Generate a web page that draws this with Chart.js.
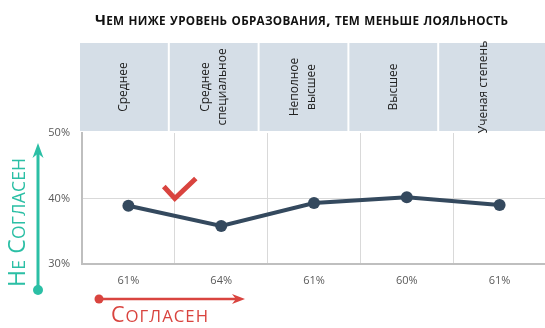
<!DOCTYPE html>
<html lang="ru">
<head>
    <meta charset="UTF-8">
    <meta name="viewport" content="width=device-width, initial-scale=1.0">
    <title>Уровень образования и лояльность</title>
    <style>
        html, body {
            margin: 0;
            padding: 0;
            background: #fff;
            overflow: hidden;
        }
        #chart-container {
            width: 552px;
            height: 328px;
        }
    </style>
</head>
<body>
    <div id="chart-container">
        <canvas id="loyaltyChart"></canvas>
    </div>
    <script src="https://cdn.jsdelivr.net/npm/chart.js"></script>
    <script>
        const titleText = 'Чем ниже уровень образования, тем меньше лояльность';
        const educationLevels = [['Среднее'], ['Среднее', 'специальное'], ['Неполное', 'высшее'], ['Высшее'], ['Ученая степень']];
        const agreeShares = ['61%', '64%', '61%', '60%', '61%'];
        const disagreeShares = [38.9, 35.8, 39.3, 40.2, 39.0];
        const yTicks = [30, 40, 50];
        const agreeLabel = 'Согласен';
        const disagreeLabel = 'Не Согласен';

        const FONT = '"Open Sans", sans-serif';
        const TEAL = '#2bbfa5';
        const RED = '#d9443f';
        const NAVY = '#34495e';

        // lowercase letters are drawn as smaller capitals; width > 0 spreads the text to that width
        function smallCaps(ctx, text, x, y, size, ratio, weight, width) {
            const chars = [...text].map(ch => {
                const up = ch.toUpperCase();
                const font = `${weight} ${ch !== up ? size * ratio : size}px ${FONT}`;
                ctx.font = font;
                return { up, font, w: ctx.measureText(up).width };
            });
            const natural = chars.reduce((s, c) => s + c.w, 0);
            const gap = width ? (width - natural) / (chars.length - 1) : 0;
            let cx = x;
            chars.forEach(c => {
                ctx.font = c.font;
                ctx.fillText(c.up, cx, y);
                cx += c.w + gap;
            });
        }

        function arrowHead(ctx, tipX, tipY, dirX, dirY, len, half) {
            const bx = tipX - dirX * len, by = tipY - dirY * len;
            const nx = -dirY, ny = dirX;
            ctx.beginPath();
            ctx.moveTo(tipX, tipY);
            ctx.lineTo(bx + nx * half, by + ny * half);
            ctx.lineTo(tipX - dirX * len * 0.7, tipY - dirY * len * 0.7);
            ctx.lineTo(bx - nx * half, by - ny * half);
            ctx.closePath();
            ctx.fill();
        }

        const decorations = {
            id: 'decorations',
            beforeDraw(chart) {
                const ctx = chart.ctx;
                const area = chart.chartArea;
                ctx.save();

                // title
                ctx.fillStyle = '#111';
                ctx.textBaseline = 'alphabetic';
                ctx.textAlign = 'left';
                smallCaps(ctx, titleText, 95, 24.5, 15, 0.78, 'bold', 413);

                // column headers
                const top = 43, bottom = 131, step = 89.8;
                const left0 = area.left - 2;
                educationLevels.forEach((lines, i) => {
                    const x0 = left0 + i * step;
                    const x1 = i === educationLevels.length - 1 ? chart.width : x0 + step - 2;
                    ctx.fillStyle = '#d5dee7';
                    ctx.fillRect(x0, top, x1 - x0, bottom - top);

                    const cx = x0 + (step - 2) / 2;
                    ctx.save();
                    ctx.translate(cx, (top + bottom) / 2);
                    ctx.rotate(-Math.PI / 2);
                    ctx.fillStyle = '#222';
                    ctx.font = `12px ${FONT}`;
                    ctx.textAlign = 'center';
                    ctx.textBaseline = 'middle';
                    lines.forEach((line, j) => {
                        ctx.fillText(line, 0, (j - (lines.length - 1) / 2) * 17);
                    });
                    ctx.restore();
                });
                ctx.restore();
            },
            afterDraw(chart) {
                const ctx = chart.ctx;
                const xs = chart.scales.x;
                const ys = chart.scales.y;
                ctx.save();

                // check mark on the first column boundary
                const bx = (xs.getPixelForValue(0) + xs.getPixelForValue(1)) / 2;
                const by = ys.getPixelForValue(40);
                ctx.strokeStyle = RED;
                ctx.lineWidth = 5;
                ctx.lineJoin = 'miter';
                ctx.beginPath();
                ctx.moveTo(bx - 11, by - 12);
                ctx.lineTo(bx, by);
                ctx.lineTo(bx + 21, by - 20);
                ctx.stroke();

                // vertical arrow: disagree
                ctx.strokeStyle = TEAL;
                ctx.fillStyle = TEAL;
                ctx.lineWidth = 3;
                ctx.beginPath();
                ctx.moveTo(38, 290);
                ctx.lineTo(38, 152);
                ctx.stroke();
                arrowHead(ctx, 38, 143, 0, -1, 15, 5.5);
                ctx.beginPath();
                ctx.arc(38, 290, 5, 0, Math.PI * 2);
                ctx.fill();

                ctx.save();
                ctx.translate(25, 287);
                ctx.rotate(-Math.PI / 2);
                ctx.textBaseline = 'alphabetic';
                smallCaps(ctx, disagreeLabel, 0, 0, 23, 0.76, 'normal', 129);
                ctx.restore();

                // horizontal arrow: agree
                ctx.strokeStyle = RED;
                ctx.fillStyle = RED;
                ctx.lineWidth = 2.5;
                ctx.beginPath();
                ctx.moveTo(99, 299);
                ctx.lineTo(236, 299);
                ctx.stroke();
                arrowHead(ctx, 245, 299, 1, 0, 13, 5);
                ctx.beginPath();
                ctx.arc(99, 299, 4.5, 0, Math.PI * 2);
                ctx.fill();

                ctx.textBaseline = 'alphabetic';
                smallCaps(ctx, agreeLabel, 111, 322, 21.5, 0.78, 'normal', 97);
                ctx.restore();
            }
        };

        const ctx = document.getElementById('loyaltyChart').getContext('2d');
        const chart = new Chart(ctx, {
            type: 'line',
            data: {
                labels: agreeShares,
                datasets: [{
                    label: 'Не согласен',
                    data: disagreeShares,
                    borderColor: NAVY,
                    backgroundColor: NAVY,
                    borderWidth: 4,
                    pointRadius: 6,
                    pointBorderWidth: 0,
                    pointBackgroundColor: NAVY,
                    tension: 0,
                    fill: false
                }]
            },
            options: {
                responsive: true,
                maintainAspectRatio: false,
                animation: false,
                layout: {
                    padding: { top: 133, right: 3, left: 0, bottom: 0 }
                },
                plugins: {
                    legend: { display: false },
                    tooltip: { enabled: false }
                },
                scales: {
                    x: {
                        offset: true,
                        grid: { offset: true, color: '#d9d9d9', lineWidth: 1, drawTicks: false },
                        border: { color: '#bfbfbf', width: 2 },
                        ticks: { color: '#595959', font: { family: FONT, size: 11 }, padding: 10 },
                        afterFit(scale) { scale.height = 64; }
                    },
                    y: {
                        min: 30,
                        max: 50,
                        grid: {
                            color: c => c.tick && c.tick.value === 40 ? '#d9d9d9' : 'rgba(0,0,0,0)',
                            drawTicks: false
                        },
                        border: { color: '#bfbfbf', width: 2 },
                        ticks: {
                            color: '#595959',
                            font: { family: FONT, size: 11 },
                            padding: 12,
                            callback: v => v + '%'
                        },
                        afterBuildTicks(scale) { scale.ticks = yTicks.map(v => ({ value: v })); },
                        afterFit(scale) { scale.width = 82; }
                    }
                }
            },
            plugins: [decorations]
        });
    </script>
</body>
</html>
